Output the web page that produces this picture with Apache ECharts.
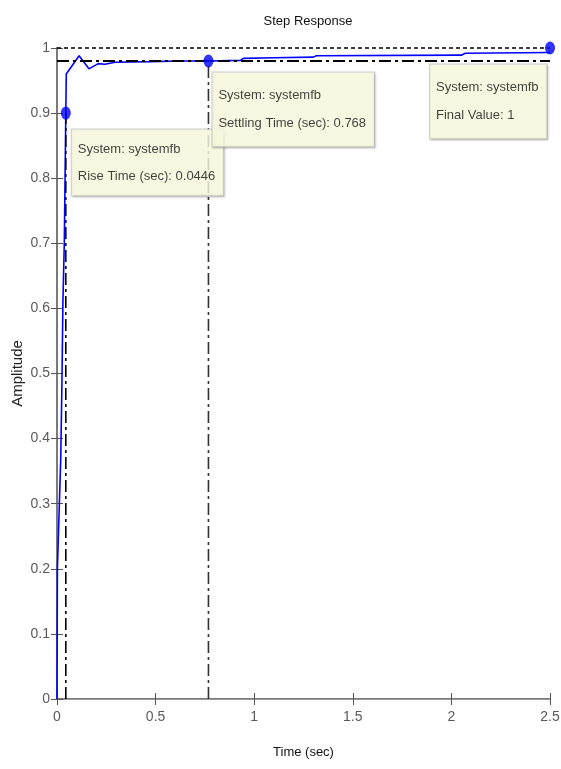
<!DOCTYPE html>
<html>
<head>
<meta charset="utf-8">
<title>Step Response</title>
<script src="https://cdn.jsdelivr.net/npm/echarts@6/dist/echarts.min.js"></script>
<style>
  html, body { margin: 0; padding: 0; background: #ffffff; }
  #chart { width: 561px; height: 769px; }
</style>
</head>
<body>
<div id="chart"></div>
<script>
// Closed-loop step response of systemfb
const timeSec = [0, 0.002, 0.019, 0.025, 0.030, 0.037, 0.047, 0.112, 0.162, 0.209, 0.243, 0.294,
                 0.475, 0.62, 0.768, 0.93, 0.945, 1.10, 1.30, 1.315, 2.05, 2.07, 2.5];
const amplitude = [0, 0.20, 0.37, 0.485, 0.61, 0.70, 0.96, 0.988, 0.968, 0.976, 0.975, 0.978,
                   0.979, 0.980, 0.980, 0.981, 0.984, 0.985, 0.986, 0.988, 0.989, 0.992, 0.993];

// Response characteristics
const riseTime = 0.0446;      // 10%-90% rise time (s)
const riseLevel = 0.9;
const settlingTime = 0.768;   // 2% settling time (s)
const settleLevel = 0.98;
const finalValue = 1;
const tEnd = 2.5;

// Axis ranges and tick steps
const xRange = [0, 2.5];
const xStep = 0.5;
const yRange = [0, 1];
const yStep = 0.1;

const FONT = '"Liberation Sans", Arial, sans-serif';

const tipLines = {
  rise: ['System: systemfb', 'Rise Time (sec): ' + riseTime],
  settle: ['System: systemfb', 'Settling Time (sec): ' + settlingTime],
  final: ['System: systemfb', 'Final Value: ' + finalValue]
};

function tipLabel(lines, pos, lineH, pad) {
  return {
    show: true,
    position: pos,
    formatter: lines.join('\n'),
    fontFamily: FONT,
    fontSize: 13,
    color: '#111111',
    lineHeight: lineH,
    align: 'left',
    verticalAlign: 'top',
    backgroundColor: '#ffffe4',
    borderColor: '#c4c4c4',
    borderWidth: 1,
    padding: pad,
    shadowColor: 'rgba(0,0,0,0.18)',
    shadowBlur: 2,
    shadowOffsetX: 1,
    shadowOffsetY: 1
  };
}

const dashDot = [12, 4, 3, 4];

const chart = echarts.init(document.getElementById('chart'), null, { renderer: 'canvas' });

const axisLabelStyle = { color: '#5a5a5a', fontSize: 14, fontFamily: FONT };
const tickStyle = { show: true, inside: true, length: 6, lineStyle: { color: '#555555', width: 1 } };

chart.setOption({
  animation: false,
  backgroundColor: '#ffffff',
  title: {
    text: 'Step Response',
    left: 303,
    top: 10,
    textAlign: 'center',
    textStyle: { fontFamily: FONT, fontSize: 13, fontWeight: 'normal', color: '#111111' }
  },
  grid: { left: 57, right: 11, top: 48, bottom: 70, containLabel: false, outerBoundsMode: 'none' },
  xAxis: [
    {
      type: 'value', min: xRange[0], max: xRange[1], interval: xStep, position: 'bottom',
      axisLine: { show: true, lineStyle: { color: '#7a7a7a', width: 2 } },
      axisTick: tickStyle,
      axisLabel: Object.assign({ margin: 11 }, axisLabelStyle),
      splitLine: { show: false },
      name: 'Time (sec)', nameLocation: 'middle', nameGap: 47, nameMoveOverlap: false,
      nameTextStyle: { fontFamily: FONT, fontSize: 13, color: '#111111' }
    },
    {
      type: 'value', min: xRange[0], max: xRange[1], interval: xStep, position: 'top',
      axisLine: { show: true, lineStyle: { color: '#9a9a9a', width: 1 } },
      axisTick: tickStyle,
      axisLabel: { show: false },
      splitLine: { show: false }
    }
  ],
  yAxis: [
    {
      type: 'value', min: yRange[0], max: yRange[1], interval: yStep, position: 'left',
      axisLine: { show: true, lineStyle: { color: '#7a7a7a', width: 2 } },
      axisTick: tickStyle,
      axisLabel: Object.assign({ margin: 7 }, axisLabelStyle),
      splitLine: { show: false },
      name: 'Amplitude', nameLocation: 'middle', nameGap: 32, nameRotate: 90, nameMoveOverlap: false,
      nameTextStyle: { fontFamily: FONT, fontSize: 15, color: '#222222' }
    },
    {
      type: 'value', min: yRange[0], max: yRange[1], interval: yStep, position: 'right',
      axisLine: { show: true, lineStyle: { color: '#7a7a7a', width: 2 } },
      axisTick: tickStyle,
      axisLabel: { show: false },
      splitLine: { show: false }
    }
  ],
  series: [
    {
      name: 'systemfb', type: 'line', xAxisIndex: 0, yAxisIndex: 0,
      data: timeSec.map((t, i) => [t, amplitude[i]]),
      showSymbol: false, symbol: 'none',
      lineStyle: { color: '#0000ff', width: 1.6 },
      z: 2
    },
    {
      name: 'final value', type: 'line', clip: false,
      data: [[0, finalValue], [tEnd, finalValue]],
      symbol: 'none', lineStyle: { color: '#000000', width: 1.5, type: [4, 3] }, z: 3
    },
    {
      name: 'settling band', type: 'line', clip: false,
      data: [[0, settleLevel], [tEnd, settleLevel]],
      symbol: 'none', lineStyle: { color: '#000000', width: 1.8, type: dashDot }, z: 3
    },
    {
      name: 'rise time', type: 'line', clip: false,
      data: [[riseTime, 0], [riseTime, riseLevel]],
      symbol: 'none', lineStyle: { color: '#000000', width: 1.6, type: dashDot }, z: 3
    },
    {
      name: 'settling time', type: 'line', clip: false,
      data: [[settlingTime, 0], [settlingTime, settleLevel]],
      symbol: 'none', lineStyle: { color: '#333333', width: 1.6, type: dashDot }, z: 3
    },
    {
      name: 'rise marker', type: 'scatter', clip: false,
      data: [[riseTime, riseLevel]],
      symbol: 'circle', symbolSize: [10, 13],
      itemStyle: { color: '#0000ff' },
      label: tipLabel(tipLines.rise, [11, 23], 27, [6, 8, 6, 6]), z: 5
    },
    {
      name: 'settle marker', type: 'scatter', clip: false,
      data: [[settlingTime, settleLevel]],
      symbol: 'circle', symbolSize: [10, 13],
      itemStyle: { color: '#0000ff' },
      label: tipLabel(tipLines.settle, [9, 18], 28, [9, 8, 9, 6]), z: 5
    },
    {
      name: 'final marker', type: 'scatter', clip: false,
      data: [[tEnd, finalValue]],
      symbol: 'circle', symbolSize: [10, 13],
      itemStyle: { color: '#0000ff' },
      label: tipLabel(tipLines.final, [-115, 23], 28, [9, 8, 9, 6]), z: 5
    }
  ]
});
</script>
</body>
</html>
